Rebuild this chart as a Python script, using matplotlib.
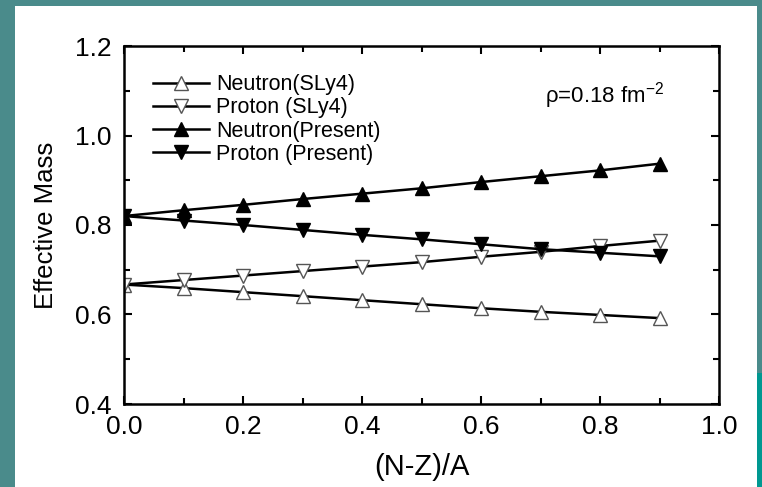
import matplotlib.pyplot as plt
from matplotlib.patches import Rectangle
from matplotlib.ticker import MultipleLocator

# data
asym = [0.0, 0.1, 0.2, 0.3, 0.4, 0.5, 0.6, 0.7, 0.8, 0.9]
neutron_sly4 = [0.667, 0.659, 0.650, 0.641, 0.632, 0.623, 0.614, 0.606, 0.599, 0.592]
proton_sly4 = [0.667, 0.677, 0.687, 0.697, 0.707, 0.717, 0.729, 0.740, 0.753, 0.765]
neutron_present = [0.820, 0.833, 0.845, 0.858, 0.870, 0.882, 0.896, 0.909, 0.922, 0.937]
proton_present = [0.820, 0.810, 0.800, 0.789, 0.778, 0.768, 0.757, 0.746, 0.738, 0.730]

plt.rcParams['font.family'] = ['Liberation Sans', 'DejaVu Sans']
plt.rcParams['mathtext.fontset'] = 'custom'
plt.rcParams['mathtext.rm'] = 'Liberation Sans'

W, H = 762, 487
fig = plt.figure(figsize=(W / 100, H / 100), dpi=100, facecolor='#4a8b8b')

# white slide panel + bright strip at the right edge
fig.patches.append(Rectangle((15 / W, 0), (757 - 15) / W, (487 - 6) / H,
                             transform=fig.transFigure, facecolor='white',
                             edgecolor='none', zorder=-2))
fig.patches.append(Rectangle((757 / W, 0), 5 / W, (487 - 373) / H,
                             transform=fig.transFigure, facecolor='#009891',
                             edgecolor='none', zorder=-2))

ax = fig.add_axes([124 / W, 1 - 404 / H, (719 - 124) / W, (404 - 46) / H])
ax.set_zorder(1)
ax.set_facecolor('white')

kw = dict(color='black', lw=1.8, markersize=10.5, markeredgewidth=1.0)
ax.plot(asym, neutron_sly4, marker='^', mfc='white', mec='#555555', label='Neutron(SLy4)', **kw)
ax.plot(asym, proton_sly4, marker='v', mfc='white', mec='#555555', label='Proton (SLy4)', **kw)
ax.plot(asym, neutron_present, marker='^', mfc='black', mec='black', label='Neutron(Present)', **kw)
ax.plot(asym, proton_present, marker='v', mfc='black', mec='black', label='Proton (Present)', **kw)

ax.set_xlim(0, 1.0)
ax.set_ylim(0.4, 1.2)
ax.xaxis.set_major_locator(MultipleLocator(0.2))
ax.xaxis.set_minor_locator(MultipleLocator(0.1))
ax.yaxis.set_major_locator(MultipleLocator(0.2))
ax.yaxis.set_minor_locator(MultipleLocator(0.1))
ax.tick_params(which='both', direction='in', top=True, right=True, width=1.5)
ax.tick_params(which='major', length=6, labelsize=19)
ax.tick_params(axis='x', which='major', pad=8)
ax.tick_params(axis='y', which='major', pad=9)
ax.tick_params(which='minor', length=4)
for s in ax.spines.values():
    s.set_linewidth(1.8)

ax.set_xlabel('(N-Z)/A', fontsize=21, labelpad=10)
ax.set_ylabel('Effective Mass', fontsize=18.5, labelpad=12)

ax.text(0.708, 0.842, '\u03c1=0.18 fm$^{\\mathrm{-2}}$', transform=ax.transAxes, fontsize=16)

ax.legend(loc='upper left', bbox_to_anchor=(0.035, 0.945), frameon=False, fontsize=15.5,
          handlelength=2.6, handletextpad=0.3, labelspacing=0.1, borderaxespad=0)

fig.savefig('out.png', dpi=100, facecolor=fig.get_facecolor())
